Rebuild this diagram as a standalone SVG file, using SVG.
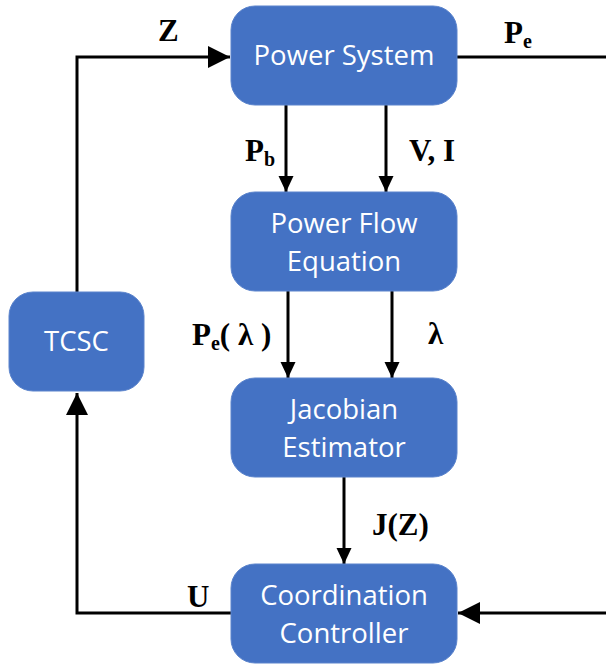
<svg xmlns="http://www.w3.org/2000/svg" width="606" height="664" viewBox="0 0 606 664">
<style>
.box{fill:#4472C4;stroke:#5a83cc;stroke-width:1}
.nt{fill:#ffffff;font-family:"Open Sans","Noto Sans",sans-serif;font-size:27.5px;text-anchor:middle}
.lbl{fill:#000;font-family:"Liberation Serif","Times New Roman",serif;font-weight:bold;font-size:31px}
.sub{font-size:20px}
.ln{fill:none;stroke:#000;stroke-width:3}
</style>
<defs>
<marker id="big" viewBox="0 0 22 22" markerWidth="22" markerHeight="22" refX="22" refY="11" orient="auto" markerUnits="userSpaceOnUse"><path d="M0,0 L22,11 L0,22 z" fill="#000"/></marker>
<marker id="sm" viewBox="0 0 16 16" markerWidth="16" markerHeight="16" refX="16" refY="8" orient="auto" markerUnits="userSpaceOnUse"><path d="M0,0.5 L16,8 L0,15.5 z" fill="#000"/></marker>
</defs>
<rect width="606" height="664" fill="#ffffff"/>
<g id="connectors">
<path class="ln" d="M77,292 V57 H230" marker-end="url(#big)"/>
<path class="ln" d="M457,57 H610 V613 H458" marker-end="url(#big)"/>
<path class="ln" d="M231,613 H77 V393" marker-end="url(#big)"/>
<path class="ln" d="M286,105 V192" marker-end="url(#sm)"/>
<path class="ln" d="M386,105 V192" marker-end="url(#sm)"/>
<path class="ln" d="M288,291 V378" marker-end="url(#sm)"/>
<path class="ln" d="M392,291 V378" marker-end="url(#sm)"/>
<path class="ln" d="M344,477 V564" marker-end="url(#sm)"/>
</g>
<g id="power-system">
<rect class="box" x="231" y="6" width="226" height="99" rx="24"/>
<text class="nt" x="344" y="65">Power System</text>
</g>
<g id="power-flow-equation">
<rect class="box" x="231" y="192" width="226" height="99" rx="24"/>
<text class="nt" x="344" y="233">Power Flow</text>
<text class="nt" x="344" y="271">Equation</text>
</g>
<g id="jacobian-estimator">
<rect class="box" x="231" y="378" width="226" height="99" rx="24"/>
<text class="nt" x="344" y="419">Jacobian</text>
<text class="nt" x="344" y="457">Estimator</text>
</g>
<g id="coordination-controller">
<rect class="box" x="231" y="564" width="226" height="99" rx="24"/>
<text class="nt" x="344" y="605">Coordination</text>
<text class="nt" x="344" y="643">Controller</text>
</g>
<g id="tcsc">
<rect class="box" x="9" y="292" width="135" height="99" rx="24"/>
<text class="nt" x="76.5" y="351">TCSC</text>
</g>
<g id="labels">
<text class="lbl" x="158" y="41">Z</text>
<text class="lbl" x="504" y="43">P<tspan class="sub" dy="5">e</tspan></text>
<text class="lbl" x="245" y="161">P<tspan class="sub" dy="5">b</tspan></text>
<text class="lbl" x="409" y="161">V, I</text>
<text class="lbl" x="192" y="345">P<tspan class="sub" dy="5">e</tspan><tspan dy="-5">( λ )</tspan></text>
<text class="lbl" x="428" y="344">λ</text>
<text class="lbl" x="372" y="535">J(Z)</text>
<text class="lbl" x="187" y="607">U</text>
</g>
</svg>
